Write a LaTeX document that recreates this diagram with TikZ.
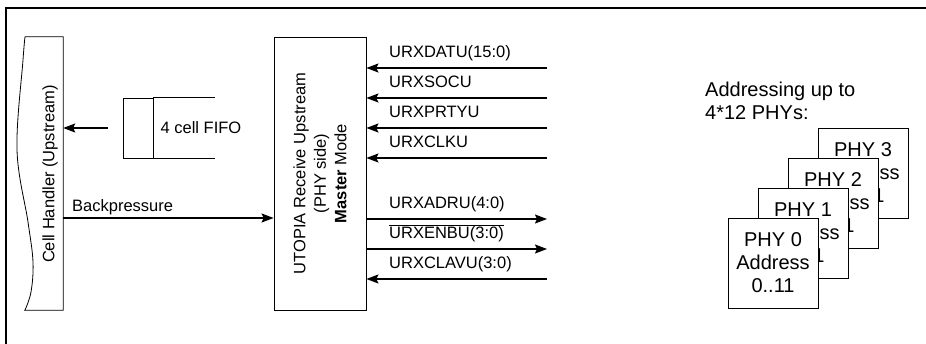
\documentclass[tikz,border=0pt]{standalone}
\usepackage{fontspec}
\setmainfont{Liberation Sans}
\usetikzlibrary{positioning, arrows.meta, calc}
\newcommand{\sigfont}{\fontsize{16.5}{20.5}\selectfont}
\newcommand{\phyfont}{\fontsize{20}{23}\selectfont}
\tikzset{
  blockbox/.style={draw, line width=0.8pt, inner sep=0pt},
  sigline/.style={line width=1.5pt, -{Stealth[length=12pt,width=9pt,inset=2pt]}},
  siglabel/.style={anchor=base west, inner sep=0pt, font=\sigfont},
  phybox/.style={blockbox, fill=white, minimum size=90pt, align=center, font=\phyfont},
}

\begin{document}
\begin{tikzpicture}[x=1pt, y=-1pt]
    \useasboundingbox (0,0) rectangle (926,344);
    % frame (only top and left edge inside the page)
    \draw[line width=2.5pt] (6,344) -- (6,8) -- (926,8);

    % cell handler with wavy left edge
    \node (cell) [minimum width=38pt, minimum height=273pt, inner sep=0pt] at (44,173.5) {};
    \draw[line width=0.8pt] (cell.north west) -- (cell.north east) -- (cell.south east) -- (cell.south west)
        -- plot[smooth, tension=0.6] coordinates {(25,310) (31,292) (33,262) (28,222) (17,150) (23,60) (25,37)};
    \node (celltext) [rotate=90, font=\sigfont] at (50,174) {Cell Handler (Upstream)};

    % fifo
    \node (fifo) [blockbox, minimum width=30pt, minimum height=60pt] at (138,128) {};
    \draw[line width=0.8pt] (fifo.north east) -- ++(62,0);
    \draw[line width=0.8pt] (fifo.south east) -- ++(62,0);
    \node (fifolabel) [right=7pt of fifo.east, font=\sigfont, inner sep=0pt] {4 cell FIFO};
    \coordinate (fifoout) at ([xshift=-15pt]fifo.west);
    \draw[sigline] (fifoout) -- (fifoout -| cell.east);

    % utopia block
    \node (utopia) [blockbox, minimum width=92pt, minimum height=273pt] at (320,173.5) {};
    \node (utopiatext) [rotate=90, align=center, font=\sigfont] at (utopia.center)
        {UTOPIA Receive Upstream\\(PHY side)\\\textbf{Master} Mode};

    \draw[sigline] ([yshift=-44.5pt]cell.east) -- ([yshift=-44.5pt]utopia.west);
    \node (bplabel) [siglabel] at (72,212) {Backpressure};

    % signals
    \foreach \name/\y/\lbl in {datu/68/URXDATU(15:0), socu/98/URXSOCU, prtyu/128/URXPRTYU,
        clku/158/URXCLKU, adru/219/URXADRU(4:0), enbu/249/{$\overline{\hbox{URXENBU(3:0)}}$},
        clavu/279/URXCLAVU(3:0)} {
        \coordinate (\name) at (547,\y);
        \node (\name label) [siglabel] at (389,\y-10) {\lbl};
    }
    \foreach \name in {datu, socu, prtyu, clku, clavu}
        \draw[sigline] (\name) -- (utopia.east |- \name);
    \foreach \name in {adru, enbu}
        \draw[sigline] (utopia.east |- \name) -- (\name);

    % phy stack
    \node (addrnote) [anchor=north west, align=left, inner sep=0pt, font=\phyfont] at (705,82)
        {Addressing up to\\4*12 PHYs:};
    \foreach \i in {3,2,1,0}
        \node (phy\i) [phybox] at (773+30*\i, 263-30*\i) {PHY \i\\Address\\0..11};
\end{tikzpicture}
\end{document}
